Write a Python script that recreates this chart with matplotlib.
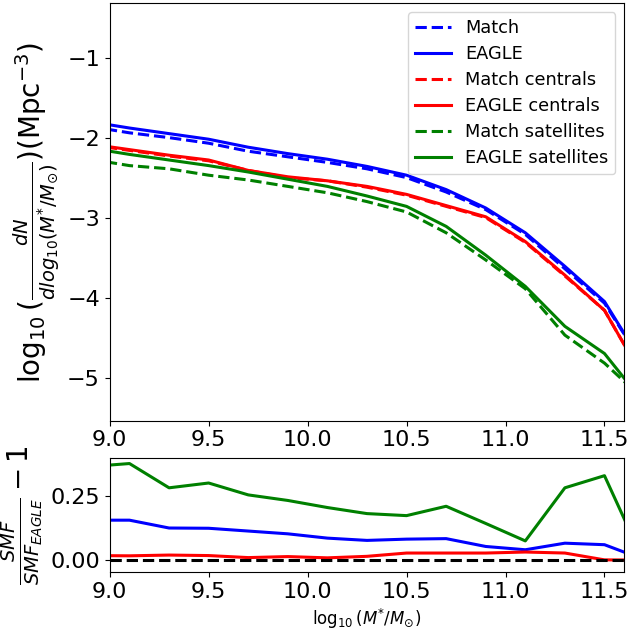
import matplotlib
matplotlib.use("Agg")
import matplotlib.pyplot as plt
import numpy as np

mass = [8.9, 9.1, 9.3, 9.5, 9.7, 9.9, 10.1, 10.3, 10.5, 10.7, 10.9, 11.1, 11.3, 11.5, 11.7]

match_all = [-1.85, -1.93, -1.99, -2.06, -2.16, -2.23, -2.30, -2.38, -2.49, -2.67, -2.89, -3.20, -3.63, -4.06, -4.84]
eagle_all = [-1.79, -1.87, -1.94, -2.01, -2.11, -2.19, -2.26, -2.35, -2.46, -2.64, -2.87, -3.18, -3.60, -4.04, -4.84]
match_cen = [-2.08, -2.15, -2.22, -2.28, -2.40, -2.49, -2.53, -2.61, -2.71, -2.85, -2.99, -3.30, -3.72, -4.15, -5.01]
eagle_cen = [-2.07, -2.14, -2.21, -2.27, -2.40, -2.48, -2.53, -2.60, -2.70, -2.84, -2.98, -3.29, -3.71, -4.15, -5.01]
match_sat = [-2.26, -2.34, -2.38, -2.46, -2.52, -2.60, -2.68, -2.79, -2.92, -3.18, -3.52, -3.88, -4.46, -4.81, -5.27]
eagle_sat = [-2.12, -2.20, -2.27, -2.34, -2.42, -2.51, -2.60, -2.72, -2.85, -3.10, -3.46, -3.85, -4.35, -4.69, -5.31]

ratio_all = [0.156, 0.156, 0.125, 0.124, 0.113, 0.102, 0.085, 0.076, 0.081, 0.083, 0.052, 0.039, 0.065, 0.059, 0.000]
ratio_cen = [0.016, 0.015, 0.018, 0.016, 0.008, 0.012, 0.007, 0.013, 0.026, 0.026, 0.026, 0.030, 0.026, -0.001, -0.002]
ratio_sat = [0.368, 0.380, 0.284, 0.303, 0.256, 0.234, 0.206, 0.182, 0.174, 0.211, 0.143, 0.074, 0.284, 0.332, -0.010]

fig = plt.figure(figsize=(6.3, 6.31), dpi=100)
ax1 = fig.add_axes([0.1741, 0.3333, 0.8168, 0.6615])
ax2 = fig.add_axes([0.1741, 0.0935, 0.8168, 0.1807])

lw = 2.2
ax1.plot(mass, match_all, color='blue', ls='--', lw=lw, label='Match')
ax1.plot(mass, eagle_all, color='blue', ls='-', lw=lw, label='EAGLE')
ax1.plot(mass, match_cen, color='red', ls='--', lw=lw, label='Match centrals')
ax1.plot(mass, eagle_cen, color='red', ls='-', lw=lw, label='EAGLE centrals')
ax1.plot(mass, match_sat, color='green', ls='--', lw=lw, label='Match satellites')
ax1.plot(mass, eagle_sat, color='green', ls='-', lw=lw, label='EAGLE satellites')
ax1.set_xlim(9.0, 11.6)
ax1.set_ylim(-5.53, -0.31)
ax1.set_yticks([-5, -4, -3, -2, -1])
ax1.set_xticks([9.0, 9.5, 10.0, 10.5, 11.0, 11.5])
ax1.tick_params(labelsize=16)
ax1.set_ylabel(r'$\log_{10}(\frac{dN}{dlog_{10}(M^{*}/M_{\odot})})(\mathrm{Mpc}^{-3})$', fontsize=20)
ax1.legend(loc='upper right', fontsize=12.8, labelspacing=0.45)

ax2.plot(mass, ratio_sat, color='green', lw=lw)
ax2.plot(mass, ratio_all, color='blue', lw=lw)
ax2.plot(mass, ratio_cen, color='red', lw=lw)
ax2.axhline(0, color='black', ls='--', lw=lw)
ax2.set_xlim(9.0, 11.6)
ax2.set_ylim(-0.049, 0.402)
ax2.set_yticks([0.0, 0.25])
ax2.set_xticks([9.0, 9.5, 10.0, 10.5, 11.0, 11.5])
ax2.tick_params(labelsize=16)
ax2.set_xlabel(r'$\log_{10}(M^{*}/M_{\odot})$', fontsize=12)
ax2.set_ylabel(r'$\frac{SMF}{SMF_{EAGLE}}-1$', fontsize=20)

fig.savefig('out.png', dpi=100)
